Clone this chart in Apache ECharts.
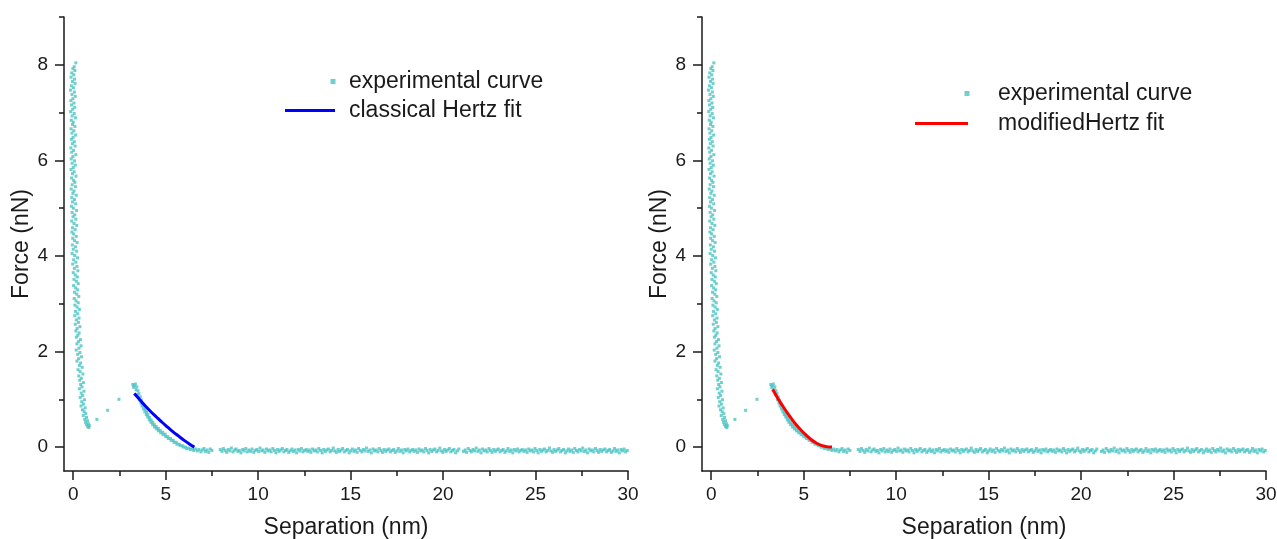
<!DOCTYPE html>
<html>
<head>
<meta charset="utf-8">
<script src="https://cdn.jsdelivr.net/npm/echarts@6/dist/echarts.min.js"></script>
<style>
html,body{margin:0;padding:0;background:#fff;}
#chart{width:1277px;height:539px;}
</style>
</head>
<body>
<div id="chart"></div>
<script>
// ---- data ----
const xMajorTicks = [0, 5, 10, 15, 20, 25, 30];
const xMinorTicks = [2.5, 7.5, 12.5, 17.5, 22.5, 27.5];
const yMajorTicks = [0, 2, 4, 6, 8];
const yMinorTicks = [1, 3, 5, 7, 9];

const contactPoints = [
[0.14,8.04],[0.05,7.96],[-0.02,7.92],[0.09,7.88],[-0.08,7.83],[0.03,7.79],[-0.12,7.74],[0.07,7.70],[-0.04,7.65],[0.10,7.61],
[-0.10,7.56],[0.01,7.52],[-0.15,7.47],[0.06,7.43],[-0.07,7.38],[0.11,7.34],[-0.02,7.29],[-0.13,7.25],[0.04,7.20],[-0.09,7.16],
[0.08,7.11],[-0.03,7.07],[-0.14,7.02],[0.05,6.98],[-0.06,6.93],[0.12,6.89],[-0.11,6.84],[0.00,6.80],[-0.04,6.75],[0.09,6.71],
[-0.12,6.66],[0.03,6.62],[-0.07,6.57],[0.13,6.53],[-0.01,6.48],[-0.10,6.44],[0.06,6.39],[-0.05,6.35],[0.10,6.30],[-0.13,6.26],
[0.02,6.21],[-0.08,6.17],[0.14,6.12],[-0.02,6.08],[-0.11,6.03],[0.07,5.99],[-0.06,5.94],[0.11,5.90],[0.00,5.85],[-0.12,5.81],
[0.05,5.76],[-0.04,5.72],[0.15,5.67],[-0.09,5.63],[0.02,5.58],[0.09,5.54],[-0.06,5.49],[0.12,5.45],[-0.11,5.40],[0.04,5.36],
[-0.02,5.31],[0.16,5.27],[-0.08,5.22],[0.07,5.18],[-0.04,5.13],[0.13,5.09],[-0.10,5.04],[0.01,5.00],[0.18,4.95],[-0.06,4.91],
[0.08,4.86],[-0.01,4.82],[0.14,4.77],[-0.08,4.73],[0.04,4.68],[0.19,4.64],[-0.04,4.59],[0.10,4.55],[-0.07,4.50],[0.02,4.46],
[0.16,4.41],[-0.03,4.37],[0.07,4.32],[0.21,4.28],[-0.05,4.23],[0.12,4.19],[0.00,4.14],[0.18,4.10],[-0.06,4.05],[0.08,4.01],
[0.23,3.96],[0.02,3.92],[0.14,3.87],[-0.03,3.83],[0.20,3.78],[0.06,3.74],[0.25,3.69],[0.00,3.65],[0.11,3.60],[0.22,3.56],
[0.04,3.51],[0.17,3.47],[0.27,3.42],[0.02,3.38],[0.13,3.33],[0.24,3.29],[0.07,3.24],[0.19,3.20],[0.30,3.15],[0.05,3.11],
[0.15,3.06],[0.27,3.02],[0.09,2.97],[0.21,2.93],[0.33,2.88],[0.12,2.84],[0.24,2.79],[0.08,2.75],[0.31,2.70],[0.17,2.66],
[0.28,2.61],[0.11,2.57],[0.36,2.52],[0.21,2.48],[0.14,2.43],[0.32,2.39],[0.25,2.34],[0.17,2.30],[0.39,2.25],[0.28,2.21],
[0.20,2.16],[0.42,2.12],[0.31,2.07],[0.16,2.03],[0.36,1.98],[0.24,1.94],[0.45,1.89],[0.29,1.85],[0.20,1.80],[0.40,1.76],
[0.33,1.71],[0.48,1.67],[0.26,1.62],[0.37,1.58],[0.52,1.53],[0.30,1.49],[0.44,1.44],[0.35,1.40],[0.55,1.35],[0.40,1.31],
[0.47,1.26],[0.33,1.22],[0.58,1.17],[0.43,1.13],[0.51,1.08],[0.38,1.04],[0.61,0.99],[0.46,0.95],[0.55,0.90],[0.42,0.86],
[0.64,0.82],[0.50,0.78],[0.59,0.74],[0.68,0.70],[0.54,0.66],[0.72,0.62],[0.62,0.58],[0.77,0.55],[0.66,0.52],[0.82,0.49],
[0.71,0.47],[0.87,0.45],[0.78,0.43],[0.84,0.41]
];
const jumpPoints = [[1.28,0.58],[1.86,0.77],[2.47,1.00]];
const decayPoints = [
[3.22,1.31],[3.30,1.28],[3.36,1.32],[3.27,1.25],[3.44,1.26],[3.50,1.18],[3.40,1.20],[3.55,1.12],[3.48,1.10],[3.62,1.05],
[3.58,0.99],[3.68,0.98],[3.66,0.92],[3.75,0.91],[3.72,0.86],[3.82,0.86],[3.80,0.80],[3.89,0.79],[3.87,0.74],[3.96,0.73],
[3.95,0.68],[4.04,0.68],[4.03,0.63],[4.12,0.62],[4.11,0.57],[4.21,0.57],[4.20,0.52],[4.30,0.52],[4.29,0.47],[4.39,0.47],
[4.39,0.42],[4.49,0.43],[4.50,0.38],[4.60,0.39],[4.61,0.34],[4.71,0.35],[4.73,0.30],[4.84,0.31],[4.86,0.26],[4.97,0.27],
[5.00,0.22],[5.11,0.22],[5.14,0.18],[5.26,0.18],[5.29,0.14],[5.41,0.14],[5.45,0.10],[5.57,0.10],[5.61,0.06],[5.73,0.06],
[5.78,0.03],[5.90,0.03],[5.95,0.00],[6.07,0.00],[6.13,-0.03],[6.26,-0.02],[6.32,-0.05],[6.45,-0.04],[6.52,-0.07]
];
const baselinePoints = [
[6.62,-0.04],[6.71,-0.08],[6.80,-0.05],[6.90,-0.10],[6.98,-0.06],[7.07,-0.03],[7.15,-0.09],[7.24,-0.06],[7.33,-0.11],[7.41,-0.04],[7.50,-0.07],
[7.95,-0.05],[8.04,-0.09],[8.12,-0.03],[8.21,-0.07],[8.30,-0.11],[8.38,-0.05],[8.47,-0.08],[8.55,-0.02],[8.64,-0.10],[8.73,-0.06],
[8.81,-0.04],[8.90,-0.09],[8.98,-0.07],[9.07,-0.12],[9.16,-0.05],[9.24,-0.08],[9.33,-0.03],[9.41,-0.10],[9.50,-0.06],[9.59,-0.09],
[9.67,-0.04],[9.76,-0.11],[9.84,-0.07],[9.93,-0.05],[10.02,-0.09],[10.10,-0.02],[10.19,-0.08],[10.27,-0.06],[10.36,-0.11],[10.45,-0.04],
[10.53,-0.08],[10.62,-0.06],[10.70,-0.10],[10.79,-0.03],[10.88,-0.07],[10.96,-0.12],[11.05,-0.05],[11.13,-0.09],[11.22,-0.06],[11.31,-0.03],
[11.39,-0.10],[11.48,-0.07],[11.56,-0.05],[11.65,-0.11],[11.74,-0.08],[11.82,-0.04],[11.91,-0.09],[11.99,-0.06],[12.08,-0.12],[12.17,-0.05],
[12.25,-0.08],[12.34,-0.03],[12.42,-0.10],[12.51,-0.07],[12.60,-0.05],[12.68,-0.09],[12.77,-0.06],[12.85,-0.11],[12.94,-0.04],[13.03,-0.08],
[13.11,-0.06],[13.20,-0.10],[13.28,-0.03],[13.37,-0.07],[13.46,-0.12],[13.54,-0.05],[13.63,-0.09],[13.71,-0.06],[13.80,-0.04],[13.89,-0.10],
[13.97,-0.07],[14.06,-0.02],[14.14,-0.08],[14.23,-0.11],[14.32,-0.05],[14.40,-0.09],[14.49,-0.06],[14.57,-0.03],[14.66,-0.10],[14.75,-0.07],
[14.83,-0.05],[14.92,-0.12],[15.00,-0.08],[15.09,-0.04],[15.18,-0.09],[15.26,-0.06],[15.35,-0.11],[15.43,-0.03],[15.52,-0.07],[15.61,-0.10],
[15.69,-0.05],[15.78,-0.08],[15.86,-0.02],[15.95,-0.09],[16.04,-0.06],[16.12,-0.12],[16.21,-0.04],[16.29,-0.08],[16.38,-0.06],[16.47,-0.10],
[16.55,-0.03],[16.64,-0.07],[16.72,-0.11],[16.81,-0.05],[16.90,-0.09],[16.98,-0.06],[17.07,-0.04],[17.15,-0.10],[17.24,-0.07],[17.33,-0.05],
[17.41,-0.11],[17.50,-0.08],[17.58,-0.03],[17.67,-0.09],[17.76,-0.06],[17.84,-0.12],[17.93,-0.05],[18.01,-0.08],[18.10,-0.04],[18.19,-0.10],
[18.27,-0.07],[18.36,-0.05],[18.44,-0.09],[18.53,-0.06],[18.62,-0.11],[18.70,-0.04],[18.79,-0.08],[18.87,-0.06],[18.96,-0.10],[19.05,-0.03],
[19.13,-0.07],[19.22,-0.12],[19.30,-0.05],[19.39,-0.09],[19.48,-0.06],[19.56,-0.04],[19.65,-0.10],[19.73,-0.07],[19.82,-0.02],[19.91,-0.08],
[19.99,-0.11],[20.08,-0.05],[20.16,-0.09],[20.25,-0.06],[20.34,-0.03],[20.42,-0.10],[20.51,-0.07],[20.59,-0.05],[20.68,-0.12],[20.77,-0.08],
[20.85,-0.04],[21.10,-0.09],[21.19,-0.06],[21.27,-0.11],[21.36,-0.03],[21.45,-0.07],[21.53,-0.10],[21.62,-0.05],[21.70,-0.08],[21.79,-0.02],
[21.88,-0.09],[21.96,-0.06],[22.05,-0.12],[22.13,-0.04],[22.22,-0.08],[22.31,-0.06],[22.39,-0.10],[22.48,-0.03],[22.56,-0.07],[22.65,-0.11],
[22.74,-0.05],[22.82,-0.09],[22.91,-0.06],[22.99,-0.04],[23.08,-0.10],[23.17,-0.07],[23.25,-0.05],[23.34,-0.11],[23.42,-0.08],[23.51,-0.03],
[23.60,-0.09],[23.68,-0.06],[23.77,-0.12],[23.85,-0.05],[23.94,-0.08],[24.03,-0.04],[24.11,-0.10],[24.20,-0.07],[24.28,-0.05],[24.37,-0.09],
[24.46,-0.06],[24.54,-0.11],[24.63,-0.04],[24.71,-0.08],[24.80,-0.06],[24.89,-0.10],[24.97,-0.03],[25.06,-0.07],[25.14,-0.12],[25.23,-0.05],
[25.32,-0.09],[25.40,-0.06],[25.49,-0.04],[25.57,-0.10],[25.66,-0.07],[25.75,-0.02],[25.83,-0.08],[25.92,-0.11],[26.00,-0.05],[26.09,-0.09],
[26.18,-0.06],[26.26,-0.03],[26.35,-0.10],[26.43,-0.07],[26.52,-0.05],[26.61,-0.12],[26.69,-0.08],[26.78,-0.04],[26.86,-0.09],[26.95,-0.06],
[27.04,-0.11],[27.12,-0.03],[27.21,-0.07],[27.29,-0.10],[27.38,-0.05],[27.47,-0.08],[27.55,-0.02],[27.64,-0.09],[27.72,-0.06],[27.81,-0.12],
[27.90,-0.04],[27.98,-0.08],[28.07,-0.06],[28.15,-0.10],[28.24,-0.03],[28.33,-0.07],[28.41,-0.11],[28.50,-0.05],[28.58,-0.09],[28.67,-0.06],
[28.76,-0.04],[28.84,-0.10],[28.93,-0.07],[29.01,-0.05],[29.10,-0.11],[29.19,-0.08],[29.27,-0.03],[29.36,-0.09],[29.44,-0.06],[29.53,-0.12],
[29.62,-0.05],[29.70,-0.08],[29.79,-0.04],[29.87,-0.10],[29.96,-0.07]
];
const hertzFit = [[3.30,1.12],[3.60,0.99],[3.90,0.86],[4.20,0.74],[4.50,0.63],[4.80,0.52],[5.10,0.42],[5.40,0.32],[5.70,0.23],[6.00,0.14],[6.30,0.06],[6.55,0.00]];
const modifiedFit = [[3.32,1.21],[3.60,1.02],[3.90,0.84],[4.20,0.67],[4.50,0.51],[4.80,0.38],[5.10,0.26],[5.40,0.16],[5.70,0.08],[6.00,0.03],[6.30,0.005],[6.53,0.00]];

const expName = 'experimental curve';
const hertzName = 'classical Hertz fit';
const modName = 'modifiedHertz fit';

// ---- chart ----
const FONT = "'Liberation Sans', Arial, sans-serif";
const INK = '#1a1a1a';
const DOT = '#4cc3c3';
const expData = contactPoints.concat(jumpPoints, decayPoints, baselinePoints);

function xAxes(gi) {
  return [{
    gridIndex: gi, type: 'value', min: -0.5, max: 30,
    name: 'Separation (nm)', nameLocation: 'middle', nameGap: 45,
    nameTextStyle: {fontSize: 23, color: INK, fontFamily: FONT},
    axisLine: {show: true, onZero: false, lineStyle: {color: INK, width: 1.5}},
    axisTick: {show: true, customValues: xMajorTicks, length: 9, lineStyle: {color: INK, width: 1.5}},
    axisLabel: {show: true, customValues: xMajorTicks, margin: 14, fontSize: 19, color: INK, fontFamily: FONT},
    splitLine: {show: false}
  }, {
    gridIndex: gi, type: 'value', min: -0.5, max: 30, position: 'bottom',
    axisLine: {show: false, onZero: false},
    axisTick: {show: true, customValues: xMinorTicks, length: 5, lineStyle: {color: INK, width: 1.5}},
    axisLabel: {show: false}, splitLine: {show: false}
  }];
}
function yAxes(gi) {
  return [{
    gridIndex: gi, type: 'value', min: -0.5, max: 9,
    name: 'Force (nN)', nameLocation: 'middle', nameGap: 29, nameRotate: 90,
    nameTextStyle: {fontSize: 23, color: INK, fontFamily: FONT},
    axisLine: {show: true, onZero: false, lineStyle: {color: INK, width: 1.5}},
    axisTick: {show: true, customValues: yMajorTicks, length: 9, lineStyle: {color: INK, width: 1.5}},
    axisLabel: {show: true, customValues: yMajorTicks, margin: 16, fontSize: 19, color: INK, fontFamily: FONT},
    splitLine: {show: false}
  }, {
    gridIndex: gi, type: 'value', min: -0.5, max: 9, position: 'left',
    axisLine: {show: false, onZero: false},
    axisTick: {show: true, customValues: yMinorTicks, length: 5, lineStyle: {color: INK, width: 1.5}},
    axisLabel: {show: false}, splitLine: {show: false}
  }];
}

function legendItem(left, top, itemWidth, itemHeight, pad, name) {
  return {
    left: left, top: top, padding: 0, orient: 'vertical', selectedMode: false,
    itemWidth: itemWidth, itemHeight: itemHeight,
    data: [{name: name, icon: 'rect'}],
    formatter: n => '{t|' + n + '}',
    textStyle: {fontSize: 23, color: INK, fontFamily: FONT,
      rich: {t: {fontSize: 23, color: INK, fontFamily: FONT, padding: [0, 0, 0, pad]}}}
  };
}

const chart = echarts.init(document.getElementById('chart'), null, {renderer: 'canvas'});
chart.setOption({
  animation: false,
  backgroundColor: '#ffffff',
  textStyle: {fontFamily: FONT},
  grid: [
    {left: 64, top: 17, width: 564, height: 454, containLabel: false, outerBoundsMode: 'none'},
    {left: 702, top: 17, width: 564, height: 454, containLabel: false, outerBoundsMode: 'none'}
  ],
  xAxis: xAxes(0).concat(xAxes(1)),
  yAxis: yAxes(0).concat(yAxes(1)),
  legend: [
    legendItem(330.5, 70, 5, 5, 8.5, expName),
    legendItem(285, 99, 50, 3, 9, hertzName),
    legendItem(964.5, 82, 5, 5, 23.5, expName),
    legendItem(915, 112, 53, 3, 25, modName)
  ],
  series: [
    {name: expName, type: 'scatter', xAxisIndex: 0, yAxisIndex: 0, symbol: 'rect', symbolSize: 3,
     itemStyle: {color: DOT}, data: expData, z: 2},
    {name: hertzName, type: 'line', xAxisIndex: 0, yAxisIndex: 0, smooth: 0.3, showSymbol: false, symbol: 'none',
     lineStyle: {color: '#0000ff', width: 3}, itemStyle: {color: '#0000ff'}, data: hertzFit, z: 3},
    {name: expName, type: 'scatter', xAxisIndex: 2, yAxisIndex: 2, symbol: 'rect', symbolSize: 3,
     itemStyle: {color: DOT}, data: expData, z: 2},
    {name: modName, type: 'line', xAxisIndex: 2, yAxisIndex: 2, smooth: 0.3, showSymbol: false, symbol: 'none',
     lineStyle: {color: '#ff0000', width: 3}, itemStyle: {color: '#ff0000'}, data: modifiedFit, z: 3}
  ]
});
</script>
</body>
</html>
